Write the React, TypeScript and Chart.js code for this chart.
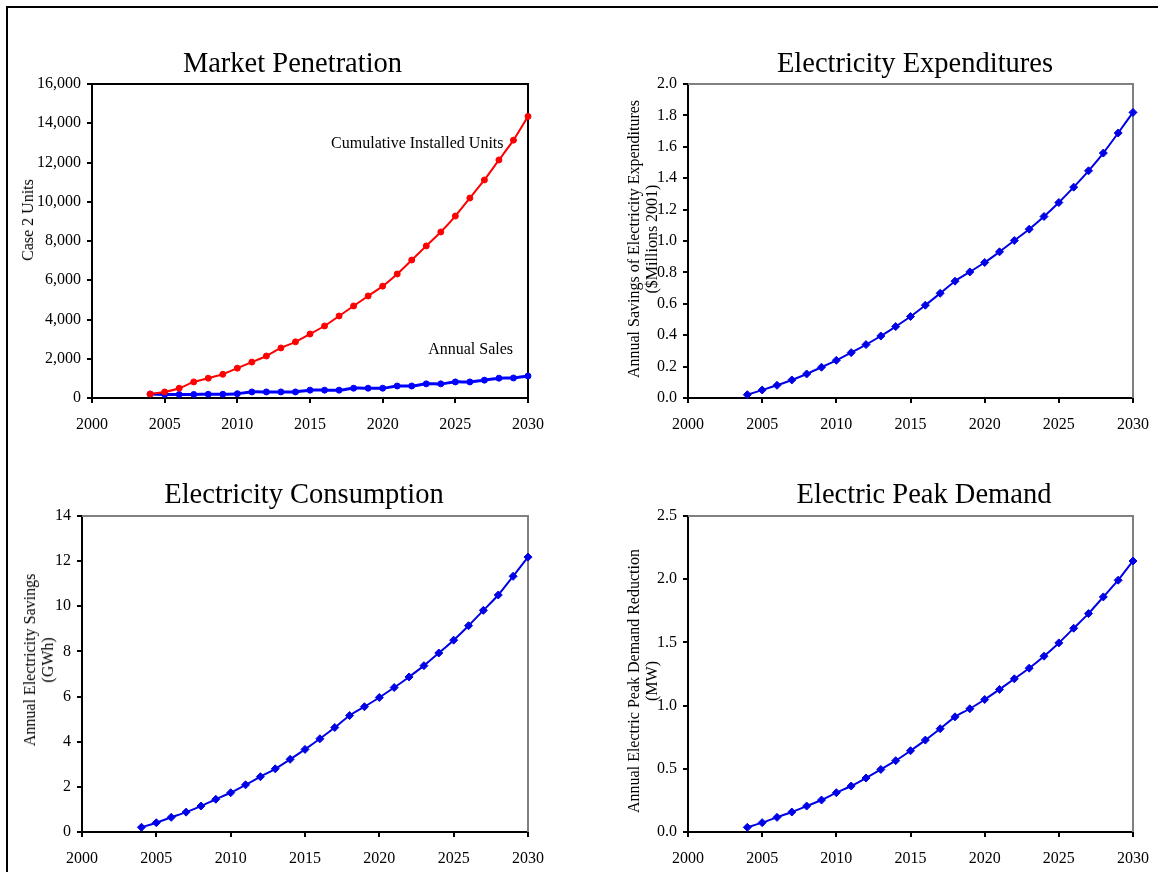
import React, { useEffect, useRef } from "react";
import { Chart, registerables } from "chart.js";

Chart.register(...registerables);

// ---------- data ----------
const years = [
  2004, 2005, 2006, 2007, 2008, 2009, 2010, 2011, 2012, 2013, 2014, 2015, 2016,
  2017, 2018, 2019, 2020, 2021, 2022, 2023, 2024, 2025, 2026, 2027, 2028, 2029, 2030,
];

const cumulativeInstalledUnits = [
  200, 310, 500, 820, 1010, 1210, 1520, 1830, 2140, 2550, 2860, 3260, 3670, 4180,
  4690, 5200, 5700, 6320, 7030, 7750, 8460, 9270, 10190, 11110, 12130, 13140, 14350,
];

const annualSales = [
  200, 180, 180, 180, 190, 190, 220, 310, 310, 310, 310, 400, 400, 400, 500, 500,
  500, 610, 610, 720, 720, 820, 820, 910, 1010, 1020, 1120,
];

const expenditureSavings = [
  0.021, 0.051, 0.081, 0.115, 0.153, 0.196, 0.24, 0.289, 0.34, 0.395, 0.455, 0.519,
  0.591, 0.667, 0.744, 0.803, 0.863, 0.931, 1.003, 1.075, 1.156, 1.245, 1.343,
  1.447, 1.56, 1.688, 1.819,
];

const electricitySavings = [
  0.21, 0.41, 0.65, 0.88, 1.15, 1.45, 1.74, 2.09, 2.45, 2.8, 3.22, 3.66, 4.13, 4.63,
  5.16, 5.55, 5.96, 6.4, 6.87, 7.37, 7.93, 8.5, 9.14, 9.82, 10.5, 11.33, 12.18,
];

const peakDemandReduction = [
  0.037, 0.074, 0.116, 0.158, 0.205, 0.253, 0.311, 0.364, 0.427, 0.495, 0.564,
  0.643, 0.727, 0.817, 0.911, 0.975, 1.048, 1.128, 1.212, 1.296, 1.391, 1.496,
  1.612, 1.728, 1.86, 1.992, 2.144,
];

const xAxisRange = [2000, 2030];
const xAxisStep = 5;

const FONT = "'Liberation Serif', 'Times New Roman', Times, serif";

type Series = {
  values: number[];
  color: string;
  pointStyle: any;
  radius: number;
  width: number;
};

type PanelProps = {
  plot: { left: number; top: number; right: number; bottom: number };
  yMin: number;
  yMax: number;
  yStep: number;
  decimals: number;
  series: Series[];
  frame: string;
};

function Panel({ plot, yMin, yMax, yStep, decimals, series, frame }: PanelProps) {
  const ref = useRef<HTMLCanvasElement>(null);
  const YW = 62;
  const PT = 22;
  const PR = 40;
  const XH = 42;
  const w = YW + (plot.right - plot.left) + PR;
  const h = PT + (plot.bottom - plot.top) + XH;

  useEffect(() => {
    if (!ref.current) return;
    const frameLines = {
      id: "frameLines",
      beforeDatasetsDraw(chart: any) {
        const { ctx, chartArea: a } = chart;
        ctx.save();
        ctx.strokeStyle = frame;
        ctx.lineWidth = 2;
        ctx.beginPath();
        ctx.moveTo(a.left, a.top);
        ctx.lineTo(a.right, a.top);
        ctx.lineTo(a.right, a.bottom);
        ctx.stroke();
        ctx.restore();
      },
    };
    const tickFont = { family: FONT, size: 16 };
    const chart = new Chart(ref.current, {
      type: "line",
      data: {
        datasets: series.map((s) => ({
          data: years.map((yr, i) => ({ x: yr, y: s.values[i] })),
          borderColor: s.color,
          backgroundColor: s.color,
          borderWidth: s.width,
          pointRadius: s.radius,
          pointStyle: s.pointStyle,
          pointBorderWidth: 1,
          pointBorderColor: s.color,
          pointBackgroundColor: s.color,
          tension: 0.2,
          clip: false as any,
          fill: false,
        })),
      },
      options: {
        responsive: false,
        animation: false,
        devicePixelRatio: 1,
        layout: { padding: { top: PT, right: PR, left: 0, bottom: 0 } },
        plugins: {
          legend: { display: false },
          tooltip: { enabled: false },
          title: { display: false },
        },
        scales: {
          x: {
            type: "linear",
            min: xAxisRange[0],
            max: xAxisRange[1],
            ticks: {
              stepSize: xAxisStep,
              callback: (v: any) => String(v),
              color: "#000",
              font: tickFont,
              padding: 12,
              maxRotation: 0,
            },
            grid: {
              drawOnChartArea: false,
              drawTicks: true,
              tickLength: 5,
              color: "#000",
              lineWidth: 2,
            },
            border: { display: true, color: "#000", width: 2 },
            afterFit: (s: any) => {
              s.height = XH;
            },
          },
          y: {
            type: "linear",
            min: yMin,
            max: yMax,
            ticks: {
              stepSize: yStep,
              callback: (v: any) =>
                decimals > 0 ? Number(v).toFixed(decimals) : Number(v).toLocaleString("en-US"),
              color: "#000",
              font: tickFont,
              padding: 6,
            },
            grid: {
              drawOnChartArea: false,
              drawTicks: true,
              tickLength: 5,
              color: "#000",
              lineWidth: 2,
            },
            border: { display: true, color: "#000", width: 2 },
            afterFit: (s: any) => {
              s.width = YW;
            },
          },
        },
      } as any,
      plugins: [frameLines],
    });
    return () => chart.destroy();
  }, []);

  return (
    <canvas
      ref={ref}
      width={w}
      height={h}
      style={{ position: "absolute", left: plot.left - YW, top: plot.top - PT, width: w, height: h }}
    />
  );
}

function Text({
  x,
  y,
  size,
  children,
  rotate = false,
  anchor = "center",
  lineHeight,
}: {
  x: number;
  y: number;
  size: number;
  children: React.ReactNode;
  rotate?: boolean;
  anchor?: "center" | "right";
  lineHeight?: number;
}) {
  const tx = anchor === "right" ? "-100%" : "-50%";
  return (
    <div
      style={{
        position: "absolute",
        left: x,
        top: y,
        fontFamily: FONT,
        fontSize: size,
        lineHeight: lineHeight ? `${lineHeight}px` : "normal",
        color: "#000",
        whiteSpace: "nowrap",
        textAlign: "center",
        transform: `translate(${tx}, -50%)${rotate ? " rotate(-90deg)" : ""}`,
      }}
    >
      {children}
    </div>
  );
}

export default function App() {
  const blue2 = "#0000e6";
  return (
    <div
      style={{
        position: "absolute",
        left: 0,
        top: 0,
        width: 1158,
        height: 872,
        overflow: "hidden",
        background: "#fff",
      }}
    >
      <div
        style={{
          position: "absolute",
          left: 6,
          top: 6,
          width: 1300,
          height: 1000,
          border: "2px solid #000",
        }}
      />

      <Panel
        plot={{ left: 92, top: 84, right: 528, bottom: 398 }}
        yMin={0}
        yMax={16000}
        yStep={2000}
        decimals={0}
        frame="#000"
        series={[
          { values: cumulativeInstalledUnits, color: "#ff0000", pointStyle: "circle", radius: 3, width: 2 },
          { values: annualSales, color: "#0000ff", pointStyle: "circle", radius: 3, width: 3 },
        ]}
      />
      <Panel
        plot={{ left: 688, top: 84, right: 1133, bottom: 398 }}
        yMin={0}
        yMax={2}
        yStep={0.2}
        decimals={1}
        frame="#808080"
        series={[{ values: expenditureSavings, color: blue2, pointStyle: "rectRot", radius: 4, width: 2 }]}
      />
      <Panel
        plot={{ left: 82, top: 516, right: 528, bottom: 832 }}
        yMin={0}
        yMax={14}
        yStep={2}
        decimals={0}
        frame="#808080"
        series={[{ values: electricitySavings, color: blue2, pointStyle: "rectRot", radius: 4, width: 2 }]}
      />
      <Panel
        plot={{ left: 688, top: 516, right: 1133, bottom: 832 }}
        yMin={0}
        yMax={2.5}
        yStep={0.5}
        decimals={1}
        frame="#808080"
        series={[{ values: peakDemandReduction, color: blue2, pointStyle: "rectRot", radius: 4, width: 2 }]}
      />

      <Text x={292.5} y={62.5} size={28.5}>Market Penetration</Text>
      <Text x={915} y={62.5} size={28.5}>Electricity Expenditures</Text>
      <Text x={304} y={494} size={28.5}>Electricity Consumption</Text>
      <Text x={924} y={494} size={28.5}>Electric Peak Demand</Text>

      <Text x={28} y={220} size={16} rotate>
        Case 2 Units
      </Text>
      <Text x={643} y={239} size={16} rotate lineHeight={18}>
        Annual Savings of Electricity Expenditures
        <br />
        ($Millions 2001)
      </Text>
      <Text x={39} y={660} size={16} rotate lineHeight={18}>
        Annual Electricity Savings
        <br />
        (GWh)
      </Text>
      <Text x={643} y={681} size={16} rotate lineHeight={18}>
        Annual Electric Peak Demand Reduction
        <br />
        (MW)
      </Text>

      <Text x={503.5} y={143} size={16} anchor="right">
        Cumulative Installed Units
      </Text>
      <Text x={513} y={349} size={16} anchor="right">
        Annual Sales
      </Text>
    </div>
  );
}
